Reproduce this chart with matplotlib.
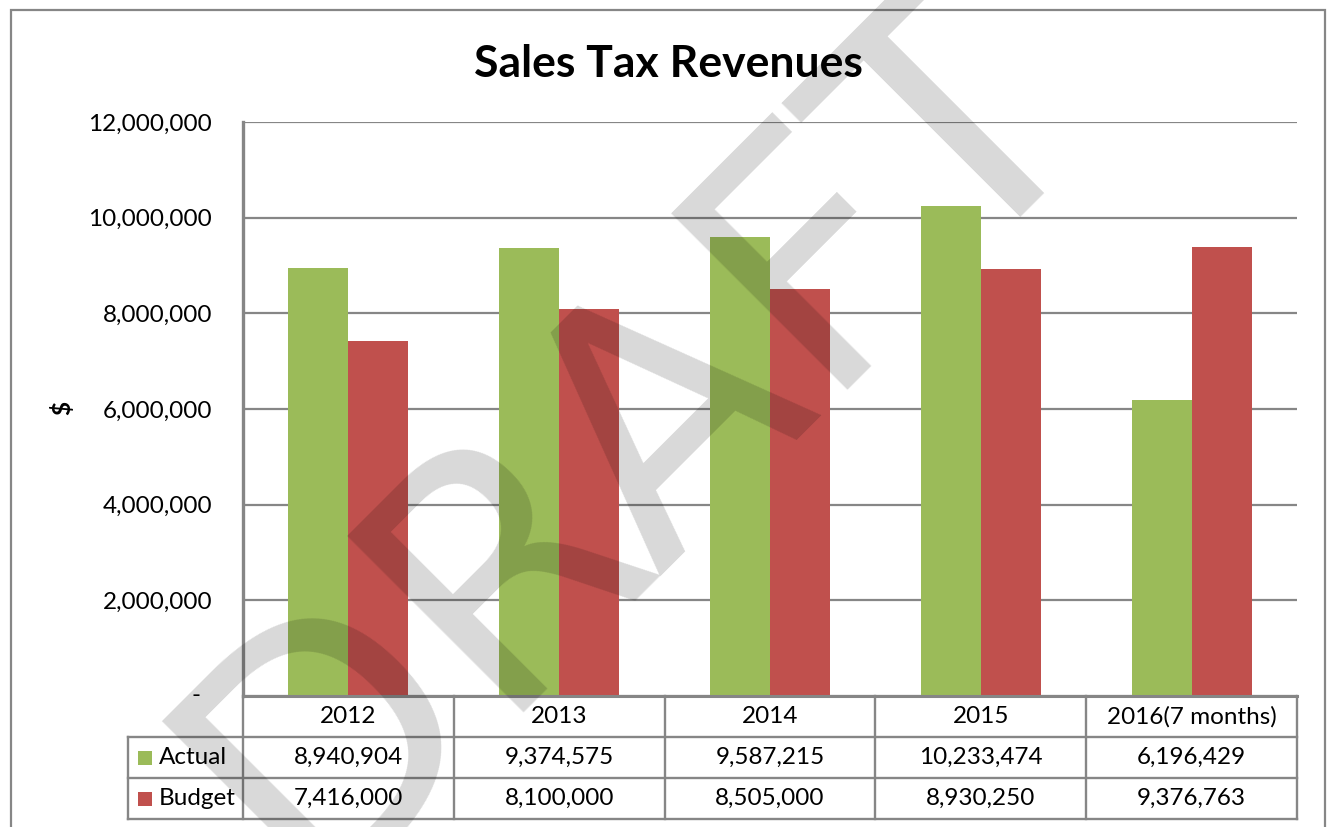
import matplotlib
matplotlib.use('Agg')
import matplotlib.pyplot as plt
from matplotlib.patches import Rectangle
from matplotlib.lines import Line2D
import numpy as np

# ---- data ----
categories = ['2012', '2013', '2014', '2015', '2016(7 months)']
actual = [8940904, 9374575, 9587215, 10233474, 6196429]
budget = [7416000, 8100000, 8505000, 8930250, 9376763]
series_names = ['Actual', 'Budget']
title = 'Sales Tax Revenues'
y_label = '$'
y_ticks = [0, 2000000, 4000000, 6000000, 8000000, 10000000, 12000000]
watermark = 'DRAFT'

GREEN = '#9BBB59'
RED = '#C0504D'
GRID = '#868686'
FONT = 'Lato'

W, H = 1327, 827
fig = plt.figure(figsize=(W / 100, H / 100), dpi=100)
fig.patch.set_facecolor('white')

ax = fig.add_axes([243 / W, 1 - 696 / H, (1297 - 243) / W, (696 - 122) / H])
x = np.arange(len(categories))
bw = 0.285
ax.bar(x - bw / 2, actual, bw, color=GREEN, zorder=2, linewidth=0)
ax.bar(x + bw / 2, budget, bw, color=RED, zorder=2, linewidth=0)
ax.set_xlim(-0.5, len(categories) - 0.5)
ax.set_ylim(0, 12e6)
ax.set_yticks(y_ticks)
ax.set_yticklabels(['' if v == 0 else f'{v:,.0f}' for v in y_ticks],
                   fontfamily=FONT, fontsize=17.5)
ax.tick_params(axis='y', length=0, pad=22.3)
ax.set_xticks([])
ax.grid(axis='y', color=GRID, lw=1.6, zorder=0)
ax.set_axisbelow(True)
for s in ['top', 'right']:
    ax.spines[s].set_visible(False)
ax.spines['left'].set_color(GRID)
ax.spines['left'].set_linewidth(2.4)
ax.spines['bottom'].set_color(GRID)
ax.spines['bottom'].set_linewidth(2.2)
ax.patch.set_alpha(0)

# zero tick label shown as "-"
ax.text((196 - 243) / 1054, 0, '-', transform=ax.transAxes, ha='center',
        va='center', fontfamily=FONT, fontsize=17.5)

# ---- data table ----
n = len(categories)
row_h = 41 / 574
r = [0, -row_h, -2 * row_h, -3 * row_h]
leg_left = (128 - 243) / 1054
tl = dict(color=GRID, lw=1.7, transform=ax.transAxes, clip_on=False)
for yy in r[1:]:
    ax.add_line(Line2D([leg_left, 1], [yy, yy], **tl))
ax.add_line(Line2D([leg_left, leg_left], [r[1], r[3]], **tl))
for i in range(n + 1):
    ax.add_line(Line2D([i / n, i / n], [r[0], r[3]], **tl))

for i, cat in enumerate(categories):
    cx = (i + 0.5) / n
    ax.text(cx, (r[0] + r[1]) / 2, cat, transform=ax.transAxes, ha='center',
            va='center', fontfamily=FONT, fontsize=17.5)
    ax.text(cx, (r[1] + r[2]) / 2, f'{actual[i]:,}', transform=ax.transAxes,
            ha='center', va='center', fontfamily=FONT, fontsize=17.5)
    ax.text(cx, (r[2] + r[3]) / 2, f'{budget[i]:,}', transform=ax.transAxes,
            ha='center', va='center', fontfamily=FONT, fontsize=17.5)

sq_w, sq_h = 14 / 1054, 14 / 574
for j, (name, col) in enumerate(zip(series_names, [GREEN, RED])):
    cy = (r[j + 1] + r[j + 2]) / 2
    ax.add_patch(Rectangle(((138 - 243) / 1054, cy - sq_h / 2), sq_w, sq_h,
                           transform=ax.transAxes, color=col, clip_on=False,
                           linewidth=0))
    ax.text((159 - 243) / 1054, cy, name, transform=ax.transAxes, ha='left',
            va='center', fontfamily=FONT, fontsize=17.5)

# ---- titles ----
fig.text(668 / W, 1 - 77 / H, title, ha='center', va='baseline',
         fontsize=32, fontweight='bold', fontfamily=FONT)
fig.text(62 / W, 1 - 408 / H, y_label, rotation=90, ha='center', va='center',
         fontsize=17.5, fontweight='bold', fontfamily=FONT)

# ---- outer border ----
fig.add_artist(Rectangle((11 / W, -0.1), (1325 - 11) / W, 1.1 - 10 / H,
                         transform=fig.transFigure, fill=False, ec=GRID,
                         lw=1.6, zorder=1))

# ---- watermark ----
fig.text(701 / W, 1 - 502 / H, watermark, rotation=45,
         rotation_mode='anchor', ha='center', va='baseline', fontsize=246,
         fontfamily='DejaVu Sans', color='black', alpha=0.153, zorder=10)

fig.savefig('out.png', dpi=100)
